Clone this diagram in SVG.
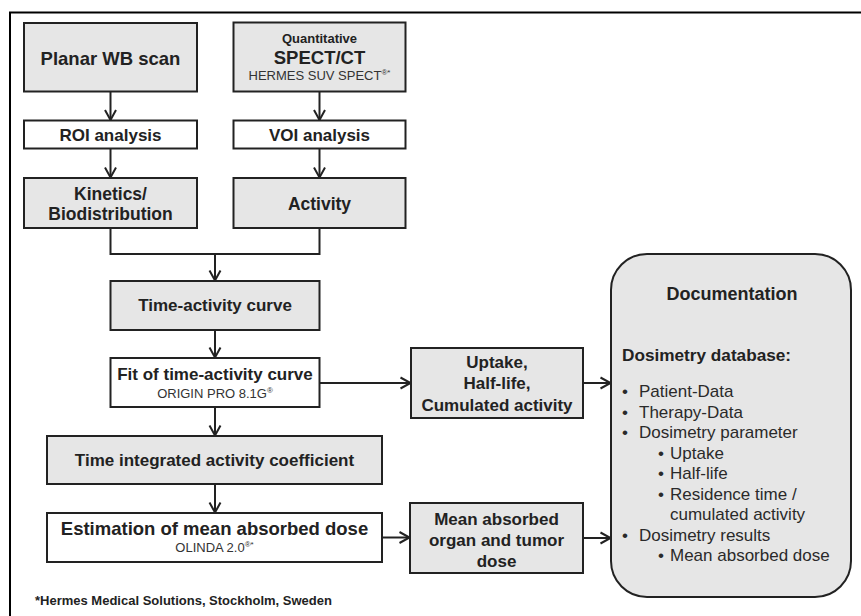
<svg xmlns="http://www.w3.org/2000/svg" width="861" height="616" viewBox="0 0 861 616">
<style>
  text { font-family: "Liberation Sans", Arial, sans-serif; fill: #222; }
  .b { font-weight: bold; }
  .t17 { font-size: 17px; }
  .t18 { font-size: 18.5px; }
  .s13 { font-size: 13px; fill: #333; }
  .box { stroke: #222; stroke-width: 2; }
  .g { fill: #e6e6e6; }
  .w { fill: #ffffff; }
  .c { text-anchor: middle; }
  .con { fill: none; stroke: #222; stroke-width: 2; }
  .doc { font-size: 17px; fill: #2a2a2a; }
</style>
<defs>
  <marker id="arr" markerUnits="userSpaceOnUse" markerWidth="14" markerHeight="14" viewBox="-12 -7 14 14" refX="0" refY="0" orient="auto">
    <path d="M -10 -5.5 L 0 0 L -10 5.5" fill="none" stroke="#222" stroke-width="2"/>
  </marker>
</defs>
<rect width="861" height="616" fill="#ffffff"/>
<g id="frame">
  <path d="M 10 616 L 10 12.5 L 861 12.5" fill="none" stroke="#000" stroke-width="2"/>
</g>
<g id="connectors">
  <path class="con" d="M 110.5 92 L 110.5 120" marker-end="url(#arr)"/>
  <path class="con" d="M 110.5 148.5 L 110.5 177.5" marker-end="url(#arr)"/>
  <path class="con" d="M 319.5 92 L 319.5 120" marker-end="url(#arr)"/>
  <path class="con" d="M 319.5 148.5 L 319.5 177.5" marker-end="url(#arr)"/>
  <path class="con" d="M 110.5 228 L 110.5 254 L 319.5 254 L 319.5 228"/>
  <path class="con" d="M 215 254 L 215 280.5" marker-end="url(#arr)"/>
  <path class="con" d="M 215 330 L 215 357.5" marker-end="url(#arr)"/>
  <path class="con" d="M 215 407 L 215 435.5" marker-end="url(#arr)"/>
  <path class="con" d="M 215 484 L 215 512.5" marker-end="url(#arr)"/>
  <path class="con" d="M 320 383 L 410.5 383" marker-end="url(#arr)"/>
  <path class="con" d="M 583 383 L 610.5 383" marker-end="url(#arr)"/>
  <path class="con" d="M 382 537.5 L 409.5 537.5" marker-end="url(#arr)"/>
  <path class="con" d="M 583 538 L 610.5 538" marker-end="url(#arr)"/>
</g>
<g id="planar">
  <rect class="box g" x="24" y="23" width="173" height="68.5"/>
  <text class="b t18 c" x="110.5" y="65">Planar WB scan</text>
</g>
<g id="spect">
  <rect class="box g" x="233.5" y="22.5" width="172" height="69"/>
  <text class="b c" x="319.5" y="42.5" font-size="13">Quantitative</text>
  <text class="b t18 c" x="319.5" y="64">SPECT/CT</text>
  <text class="s13 c" x="319.5" y="80" font-size="13.5">HERMES SUV SPECT<tspan font-size="8" dy="-5">®*</tspan></text>
</g>
<g id="roi">
  <rect class="box w" x="24" y="120.5" width="173" height="28"/>
  <text class="b t17 c" x="110.5" y="141">ROI analysis</text>
</g>
<g id="voi">
  <rect class="box w" x="233.5" y="120.5" width="172" height="28"/>
  <text class="b t17 c" x="319.5" y="141">VOI analysis</text>
</g>
<g id="kinetics">
  <rect class="box g" x="24" y="178" width="173" height="50"/>
  <text class="b c" x="110.5" y="200" font-size="17.5">Kinetics/</text>
  <text class="b c" x="110.5" y="220" font-size="17.5">Biodistribution</text>
</g>
<g id="activity">
  <rect class="box g" x="233.5" y="178" width="172" height="50"/>
  <text class="b c" x="319.5" y="209.5" font-size="17.5">Activity</text>
</g>
<g id="tac">
  <rect class="box g" x="110.5" y="281" width="209" height="49"/>
  <text class="b t17 c" x="215" y="311">Time-activity curve</text>
</g>
<g id="fit">
  <rect class="box w" x="110.5" y="358" width="209" height="49"/>
  <text class="b t17 c" x="215" y="380">Fit of time-activity curve</text>
  <text class="s13 c" x="215" y="398">ORIGIN PRO 8.1G<tspan font-size="8" dy="-5">®</tspan></text>
</g>
<g id="uptake">
  <rect class="box g" x="411" y="348" width="172" height="70"/>
  <text class="b t17 c" x="497" y="367.5">Uptake,</text>
  <text class="b t17 c" x="497" y="389">Half-life,</text>
  <text class="b t17 c" x="497" y="410.5">Cumulated activity</text>
</g>
<g id="tiac">
  <rect class="box g" x="47" y="436" width="335" height="48"/>
  <text class="b t17 c" x="214.5" y="466">Time integrated activity coefficient</text>
</g>
<g id="estimation">
  <rect class="box w" x="47" y="513" width="335" height="49"/>
  <text class="b t18 c" x="214.5" y="535">Estimation of mean absorbed dose</text>
  <text class="s13 c" x="214.5" y="551.5">OLINDA 2.0<tspan font-size="8" dy="-5">®*</tspan></text>
</g>
<g id="meandose">
  <rect class="box g" x="410" y="503" width="173" height="70"/>
  <text class="b t17 c" x="496.5" y="524.5">Mean absorbed</text>
  <text class="b t17 c" x="496.5" y="545.5">organ and tumor</text>
  <text class="b t17 c" x="496.5" y="566.5">dose</text>
</g>
<g id="documentation">
  <rect class="box" x="611" y="254" width="240" height="343" rx="36" ry="36" fill="#e6e6e6"/>
  <text class="b c" x="732" y="299.5" font-size="18">Documentation</text>
  <text class="b" x="622" y="360.5" font-size="17.2">Dosimetry database:</text>
  <text class="doc c" x="625" y="397">•</text>
  <text class="doc" x="639" y="397">Patient-Data</text>
  <text class="doc c" x="625" y="417.5">•</text>
  <text class="doc" x="639" y="417.5">Therapy-Data</text>
  <text class="doc c" x="625" y="438">•</text>
  <text class="doc" x="639" y="438">Dosimetry parameter</text>
  <text class="doc c" x="661" y="458.5">•</text>
  <text class="doc" x="670" y="458.5">Uptake</text>
  <text class="doc c" x="661" y="479">•</text>
  <text class="doc" x="670" y="479">Half-life</text>
  <text class="doc c" x="661" y="499.5">•</text>
  <text class="doc" x="670" y="499.5">Residence time /</text>
  <text class="doc" x="670" y="520">cumulated activity</text>
  <text class="doc c" x="625" y="540.5">•</text>
  <text class="doc" x="639" y="540.5">Dosimetry results</text>
  <text class="doc c" x="661" y="561">•</text>
  <text class="doc" x="670" y="561">Mean absorbed dose</text>
</g>
<g id="footnote">
  <text class="b" x="35" y="605" font-size="13">*Hermes Medical Solutions, Stockholm, Sweden</text>
</g>
</svg>
